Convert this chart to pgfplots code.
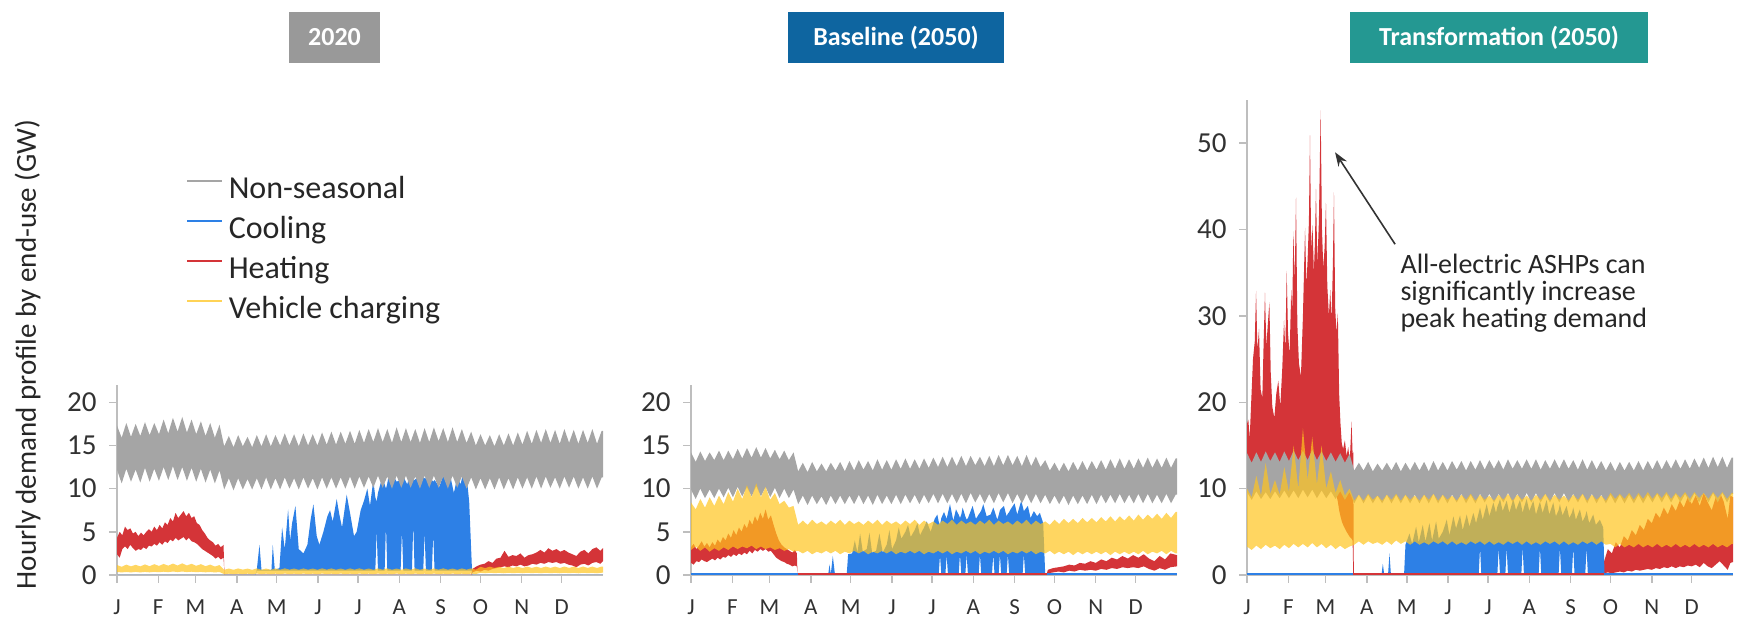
\documentclass[border=0pt]{standalone}
\usepackage{fontspec}
\setmainfont{Carlito}
\usepackage{pgfplots}
\pgfplotsset{compat=1.18}
\usepgfplotslibrary{fillbetween}
\usepackage{pgfplotstable}
\usetikzlibrary{arrows.meta}
\newcommand{\fs}[2]{\fontsize{#1}{#2}\selectfont}
\definecolor{cgray}{RGB}{165,165,165}
\definecolor{cblue}{RGB}{45,128,230}
\definecolor{cred}{RGB}{212,52,56}
\definecolor{cyel}{RGB}{255,196,30}
\definecolor{box1}{RGB}{153,153,153}
\definecolor{box2}{RGB}{14,101,160}
\definecolor{box3}{RGB}{36,152,146}
\definecolor{axc}{RGB}{190,190,190}
\definecolor{txt}{RGB}{38,38,38}
\definecolor{tickc}{RGB}{50,50,50}

% weekly envelopes (lo/hi) of non-seasonal (g) and vehicle charging (v) for the three panels
\pgfplotstableread{
x g1lo g1hi g2lo g2hi g3lo g3hi v1lo v1hi v2lo v2hi v3lo v3hi
0 12.2 17.3 9.9 14.2 9.6 14.1 0.35 1.15 2.9 8.4 3.3 10.0
3.5 10.6 15.9 8.8 13.1 8.7 13.0 0.30 0.95 3.3 7.6 2.9 9.0
7 12.3 17.6 10.0 14.3 9.7 14.2 0.35 1.20 2.8 8.8 3.4 11.5
10.5 10.8 16.0 8.9 13.2 8.8 13.1 0.30 1.00 3.2 7.8 3.0 9.2
14 12.2 17.5 9.9 14.2 9.6 14.3 0.36 1.18 2.7 9.0 3.5 13.0
17.5 10.7 16.1 8.9 13.3 8.8 13.2 0.30 1.00 3.1 8.0 3.1 9.4
21 12.4 17.7 10.0 14.4 9.7 14.2 0.36 1.22 2.8 9.2 3.4 11.0
24.5 10.8 16.2 9.0 13.3 8.9 13.1 0.31 1.02 3.2 8.2 3.0 9.3
28 12.3 17.6 10.1 14.4 9.8 14.3 0.37 1.25 2.9 9.6 3.5 12.5
31.5 10.9 16.3 9.0 13.4 8.9 13.2 0.32 1.05 3.3 8.5 3.1 9.6
35 12.5 18.0 10.2 14.6 9.8 14.4 0.38 1.28 3.0 10.0 3.6 15.0
38.5 11.0 16.4 9.1 13.5 8.9 13.3 0.33 1.08 3.3 8.8 3.2 10.0
42 12.6 18.2 10.2 14.7 9.9 14.4 0.40 1.32 3.1 10.4 3.6 17.0
45.5 11.0 16.6 9.1 13.6 9.0 13.3 0.34 1.10 3.4 9.0 3.2 11.0
49 12.5 18.3 10.3 14.8 9.9 14.5 0.40 1.35 3.0 10.6 3.7 16.0
52.5 10.9 16.5 9.1 13.6 8.9 13.3 0.34 1.10 3.3 9.0 3.2 10.5
56 12.4 18.0 10.2 14.7 9.8 14.3 0.38 1.30 3.0 10.2 3.6 15.0
59.5 10.8 16.3 9.0 13.5 8.9 13.2 0.33 1.06 3.2 8.7 3.1 10.0
63 12.3 17.8 10.1 14.5 9.7 14.2 0.36 1.25 2.9 9.5 3.5 12.0
66.5 10.7 16.1 8.9 13.4 8.8 13.1 0.31 1.02 3.1 8.2 3.0 9.5
70 12.2 17.6 10.0 14.4 9.7 14.1 0.35 1.20 2.8 8.6 3.4 11.0
73.5 10.6 15.9 8.9 13.3 8.7 13.0 0.30 0.98 3.0 7.8 3.0 9.2
77 12.1 17.4 9.9 14.2 9.6 14.0 0.34 1.15 2.7 8.0 3.3 10.0
80.5 9.9 14.9 8.2 12.0 8.3 12.1 0.10 0.60 2.8 5.8 3.5 8.6
84 11.2 16.1 9.2 13.0 9.3 13.0 0.15 0.75 2.5 6.3 3.9 9.3
87.5 9.8 14.8 8.1 11.9 8.3 12.1 0.10 0.60 2.8 5.8 3.5 8.6
91 11.2 16.2 9.2 13.1 9.3 13.1 0.15 0.76 2.4 6.4 3.9 9.4
94.5 9.9 14.9 8.2 12.0 8.3 12.0 0.10 0.62 2.7 5.9 3.6 8.7
98 11.1 16.0 9.1 12.9 9.2 12.9 0.15 0.74 2.5 6.2 3.8 9.2
101.5 9.9 14.8 8.1 12.0 8.3 12.1 0.10 0.60 2.8 5.8 3.5 8.6
105 11.2 16.2 9.2 13.0 9.3 13.0 0.16 0.76 2.5 6.3 3.9 9.3
108.5 9.9 14.9 8.2 12.1 8.3 12.1 0.11 0.61 2.8 5.9 3.5 8.7
112 11.3 16.3 9.2 13.1 9.3 13.1 0.15 0.75 2.4 6.4 4.0 9.4
115.5 9.9 14.9 8.2 12.0 8.3 12.0 0.10 0.60 2.7 5.8 3.6 8.6
119 11.2 16.2 9.2 13.2 9.3 13.0 0.15 0.76 2.5 6.3 3.9 9.3
122.5 9.9 15.0 8.2 12.1 8.3 12.1 0.10 0.61 2.8 5.9 3.5 8.7
126 11.3 16.4 9.3 13.3 9.3 13.1 0.16 0.77 2.5 6.2 3.9 9.2
129.5 10.0 15.0 8.2 12.2 8.3 12.1 0.11 0.62 2.8 5.8 3.5 8.6
133 11.2 16.3 9.2 13.2 9.3 13.1 0.15 0.75 2.4 6.3 3.8 9.3
136.5 9.9 14.9 8.1 12.1 8.3 12.0 0.10 0.60 2.7 5.9 3.5 8.7
140 11.3 16.4 9.3 13.4 9.4 13.2 0.16 0.76 2.5 6.4 3.9 9.4
143.5 10.0 15.0 8.2 12.2 8.3 12.1 0.11 0.61 2.8 5.8 3.6 8.6
147 11.2 16.3 9.2 13.3 9.3 13.1 0.15 0.75 2.5 6.3 3.9 9.3
150.5 9.9 15.0 8.2 12.2 8.3 12.1 0.10 0.60 2.8 5.9 3.5 8.7
154 11.3 16.5 9.3 13.4 9.3 13.2 0.16 0.77 2.4 6.2 3.9 9.2
157.5 10.0 15.1 8.2 12.3 8.4 12.2 0.11 0.62 2.7 5.8 3.5 8.6
161 11.3 16.6 9.3 13.5 9.4 13.2 0.15 0.76 2.5 6.3 3.8 9.3
164.5 10.0 15.1 8.3 12.3 8.3 12.1 0.10 0.61 2.8 5.9 3.5 8.7
168 11.3 16.6 9.3 13.4 9.3 13.2 0.16 0.75 2.5 6.4 3.9 9.4
171.5 10.0 15.2 8.2 12.3 8.3 12.2 0.11 0.60 2.8 5.8 3.6 8.6
175 11.4 16.7 9.3 13.5 9.4 13.3 0.15 0.76 2.4 6.3 3.9 9.3
178.5 10.0 15.2 8.3 12.4 8.4 12.2 0.10 0.62 2.7 5.9 3.5 8.7
182 11.4 16.8 9.4 13.6 9.4 13.3 0.16 0.77 2.5 6.2 3.9 9.2
185.5 10.1 15.3 8.3 12.5 8.4 12.3 0.11 0.61 2.8 5.8 3.5 8.6
189 11.4 16.9 9.4 13.7 9.4 13.3 0.15 0.75 2.5 6.3 3.8 9.3
192.5 10.1 15.4 8.3 12.5 8.4 12.2 0.10 0.60 2.8 5.9 3.5 8.7
196 11.5 17.0 9.4 13.7 9.5 13.4 0.16 0.76 2.4 6.4 3.9 9.4
199.5 10.1 15.4 8.3 12.6 8.4 12.3 0.11 0.62 2.7 5.8 3.6 8.6
203 11.4 16.9 9.4 13.8 9.4 13.3 0.15 0.77 2.5 6.3 3.9 9.3
206.5 10.0 15.3 8.3 12.6 8.4 12.3 0.10 0.61 2.8 5.9 3.5 8.7
210 11.5 17.1 9.5 13.8 9.5 13.4 0.16 0.75 2.5 6.2 3.9 9.2
213.5 10.1 15.4 8.4 12.7 8.4 12.3 0.11 0.60 2.8 5.8 3.5 8.6
217 11.5 17.0 9.4 13.7 9.5 13.4 0.15 0.76 2.4 6.3 3.8 9.3
220.5 10.1 15.4 8.3 12.6 8.4 12.2 0.10 0.62 2.7 5.9 3.5 8.7
224 11.4 16.9 9.4 13.8 9.4 13.3 0.16 0.77 2.5 6.4 3.9 9.4
227.5 10.0 15.3 8.3 12.6 8.4 12.3 0.11 0.61 2.8 5.8 3.6 8.6
231 11.5 17.0 9.5 13.9 9.5 13.4 0.15 0.75 2.5 6.3 3.9 9.3
234.5 10.1 15.4 8.4 12.7 8.4 12.3 0.10 0.60 2.8 5.9 3.5 8.7
238 11.5 17.1 9.5 13.9 9.5 13.4 0.16 0.76 2.4 6.2 3.9 9.2
241.5 10.1 15.5 8.3 12.7 8.4 12.3 0.11 0.62 2.7 5.8 3.5 8.6
245 11.4 17.0 9.4 13.8 9.4 13.3 0.15 0.77 2.5 6.3 3.8 9.3
248.5 10.0 15.4 8.3 12.6 8.4 12.2 0.10 0.61 2.8 5.9 3.5 8.7
252 11.5 17.1 9.4 13.9 9.4 13.4 0.16 0.75 2.5 6.4 3.9 9.4
255.5 10.1 15.4 8.3 12.6 8.3 12.2 0.11 0.60 2.8 5.8 3.6 8.6
259 11.4 16.9 9.4 13.7 9.4 13.3 0.15 0.76 2.4 6.3 3.9 9.3
262.5 10.0 15.3 8.3 12.5 8.3 12.2 0.10 0.62 2.7 5.9 3.5 8.7
266 11.3 16.6 9.3 13.3 9.3 13.2 0.16 0.77 2.5 6.2 3.9 9.2
269.5 9.9 15.0 8.2 12.1 8.3 12.1 0.11 0.61 2.8 5.8 3.5 8.6
273 11.2 16.3 9.2 13.0 9.3 13.1 0.25 0.95 2.4 6.4 3.6 9.5
276.5 9.9 15.0 8.2 12.0 8.3 12.0 0.20 0.80 2.7 5.9 3.2 8.8
280 11.2 16.2 9.2 13.0 9.3 13.1 0.26 0.96 2.4 6.5 3.6 9.4
283.5 9.9 14.9 8.1 12.0 8.3 12.1 0.21 0.81 2.7 6.0 3.2 8.8
287 11.3 16.3 9.2 13.1 9.3 13.1 0.25 0.95 2.3 6.5 3.5 9.5
290.5 9.9 15.0 8.2 12.1 8.3 12.1 0.20 0.80 2.7 6.0 3.2 8.7
294 11.2 16.4 9.2 13.2 9.3 13.2 0.26 0.97 2.4 6.6 3.6 9.5
297.5 9.9 15.0 8.2 12.1 8.3 12.1 0.21 0.81 2.7 6.1 3.2 8.8
301 11.3 16.5 9.3 13.2 9.3 13.2 0.25 0.96 2.4 6.6 3.5 9.6
304.5 10.0 15.1 8.2 12.2 8.4 12.2 0.20 0.80 2.7 6.1 3.2 8.8
308 11.3 16.7 9.3 13.3 9.4 13.3 0.26 0.97 2.4 6.7 3.6 9.5
311.5 10.0 15.2 8.3 12.2 8.4 12.2 0.21 0.82 2.7 6.2 3.2 8.9
315 11.4 16.8 9.3 13.4 9.4 13.3 0.25 0.96 2.3 6.8 3.5 9.6
318.5 10.0 15.3 8.3 12.3 8.4 12.3 0.20 0.81 2.7 6.2 3.2 8.8
322 11.4 16.9 9.4 13.5 9.4 13.4 0.26 0.98 2.4 6.8 3.6 9.5
325.5 10.1 15.3 8.3 12.3 8.4 12.3 0.21 0.82 2.7 6.3 3.2 8.9
329 11.3 16.8 9.3 13.4 9.4 13.4 0.25 0.97 2.4 6.9 3.5 9.6
332.5 10.0 15.2 8.3 12.3 8.4 12.3 0.20 0.81 2.7 6.3 3.2 8.8
336 11.4 16.9 9.4 13.5 9.5 13.5 0.26 0.98 2.4 7.0 3.6 9.6
339.5 10.1 15.3 8.3 12.4 8.4 12.4 0.21 0.82 2.8 6.4 3.2 8.9
343 11.4 16.8 9.4 13.6 9.5 13.6 0.25 0.97 2.4 7.0 3.5 9.5
346.5 10.0 15.2 8.3 12.4 8.4 12.4 0.20 0.81 2.7 6.5 3.2 8.8
350 11.3 16.8 9.3 13.5 9.5 13.7 0.26 0.98 2.5 7.1 3.6 9.6
353.5 10.0 15.3 8.3 12.4 8.4 12.5 0.21 0.82 2.8 6.5 3.2 8.9
357 11.4 16.9 9.4 13.6 9.5 13.7 0.25 0.97 2.4 7.2 3.5 9.6
360.5 10.0 15.2 8.3 12.4 8.4 12.4 0.20 0.81 2.8 6.6 3.2 8.8
364 11.3 16.7 9.3 13.5 9.4 13.6 0.26 0.98 2.5 7.3 3.6 9.5
365 11.3 16.7 9.3 13.5 9.4 13.6 0.26 0.98 2.5 7.3 3.6 9.5
}\weekly

% heating, 2020
\pgfplotstableread{
x lo hi
0 2.4 4.3
2 2.0 5.0
4 3.0 4.6
6 3.3 5.6
8 3.0 5.2
10 3.5 5.4
12 3.1 4.8
14 2.8 5.0
16 3.0 4.5
18 2.9 4.9
20 3.2 4.6
22 3.0 5.0
24 3.4 5.3
26 3.3 5.0
28 3.6 5.6
30 3.4 5.2
32 3.8 5.8
34 3.5 5.4
36 3.9 6.1
38 3.7 5.8
40 4.1 6.6
42 3.9 6.2
44 4.3 7.2
46 4.0 6.6
48 4.2 7.0
50 4.4 7.4
52 4.0 6.8
54 4.3 7.2
56 3.9 6.6
58 3.8 6.8
60 3.6 6.0
62 3.3 5.8
64 3.0 5.2
66 2.8 4.8
68 2.6 4.3
70 2.4 4.0
72 2.2 3.8
74 1.9 3.4
76 2.1 3.6
78 1.8 3.2
80 2.0 3.5
80.6 0.4 0.6
81 0 0
266 0 0
267 0.3 0.7
270 0.5 1.0
273 0.4 1.2
276 0.6 1.3
279 0.5 1.6
282 0.7 1.4
285 0.8 1.9
288 0.9 2.0
291 1.0 2.8
294 0.9 2.1
297 1.1 2.3
300 1.0 2.2
303 1.2 2.5
306 1.0 2.0
309 1.1 2.3
312 1.3 2.4
315 1.2 2.6
318 1.4 2.9
321 1.3 2.6
324 1.5 3.1
327 1.4 2.8
330 1.5 3.0
333 1.3 2.7
336 1.4 2.9
339 1.2 2.6
342 1.1 2.4
345 0.9 2.2
348 1.2 2.7
351 1.3 2.9
354 1.1 2.5
357 1.4 3.0
360 1.5 3.2
363 1.3 2.8
365 1.6 3.1
}\heatA

% cooling, 2020
\pgfplotstableread{
x lo hi
0 0 0
104 0 0
105 0.5 0.6
107 0.5 3.5
108.5 0.5 0.6
116 0.5 0.6
117 0.5 3.5
118.5 0.5 0.6
122 0.5 0.8
124 0.5 5.5
126 0.5 3.0
128.5 0.5 7.6
130 0.5 4.0
131.5 0.5 6.0
134 0.5 8.0
136.5 0.5 3.0
140 0.5 2.5
143 0.5 3.5
145.5 0.5 6.5
147.5 0.5 8.2
150 0.5 4.5
152 0.5 3.5
155 0.5 5.0
158 0.5 6.8
160 0.5 7.5
162 0.5 6.2
165 0.5 8.8
167 0.5 7.0
169 0.5 5.5
172.5 0.5 9.3
175 0.5 7.2
178 0.5 4.5
180 0.5 5.0
183 0.5 7.5
185.5 0.5 8.6
188 0.5 10.0
190 0.5 8.0
192.5 0.5 11.0
194 0.5 9.0
195 5.2 8.5
196 0.5 9.5
199 0.5 11.2
201 0.5 10.5
202 5.8 10.0
203 0.5 10.6
204 0.5 11.6
207.5 0.5 11.5
210 0.5 10.8
213 0.5 11.0
214 5.2 11.2
215 0.5 11.4
218 0.5 10.5
220 0.5 11.7
221.5 0.5 11.2
222.5 6.0 11.0
223.5 0.5 11.0
227 0.5 11.5
230 0.5 11.4
231 5.0 11.2
232 0.5 11.2
235 0.5 11.7
236.5 0.5 11.0
237.5 4.8 10.8
238.5 0.5 11.0
242 0.5 10.2
245 0.5 11.5
248 0.5 11.0
250 0.5 11.7
253 0.5 9.5
255.5 0.5 11.3
258 0.5 10.5
260 0.5 11.8
262.5 0.5 11.5
264.5 0.5 8.5
266.5 0.5 1.0
267 0 0
365 0 0
}\coolA

% heating, Baseline
\pgfplotstableread{
x lo hi
0 1.4 3.2
2 1.2 3.6
4 1.6 3.0
6 1.5 3.4
8 1.8 3.9
10 1.6 3.3
12 1.5 3.7
14 1.7 3.2
16 1.9 3.8
18 1.7 3.4
20 2.0 4.1
22 1.8 3.7
24 2.1 4.4
26 2.0 4.0
28 2.3 4.8
30 2.1 4.3
32 2.4 5.2
34 2.2 4.6
36 2.5 5.5
38 2.3 5.0
40 2.6 5.9
42 2.4 5.4
44 2.8 6.4
46 2.5 5.8
48 2.9 6.8
50 2.7 6.2
52 3.0 7.2
54 2.8 6.5
56 3.0 7.6
58 2.7 6.4
60 2.8 6.9
62 2.4 5.8
64 2.0 4.8
66 1.8 4.0
68 1.6 3.5
70 1.5 3.2
72 1.3 3.0
74 1.2 2.8
76 1.0 2.6
78 1.1 2.9
79.5 1.0 2.5
80 0 0
267 0 0
268 0.2 0.6
272 0.3 0.8
276 0.4 0.9
280 0.3 1.0
284 0.5 1.2
288 0.4 1.1
292 0.6 1.4
296 0.5 1.3
300 0.6 1.6
304 0.5 1.4
308 0.7 1.8
312 0.6 1.6
316 0.8 2.0
320 0.7 1.8
324 0.9 2.2
328 0.8 1.9
332 0.9 2.3
336 0.8 2.0
340 1.0 2.4
344 0.7 1.9
348 0.5 1.6
352 0.8 2.2
356 0.6 1.8
360 0.9 2.5
365 1.0 2.3
}\heatB

% cooling, Baseline
\pgfplotstableread{
x lo hi
0 0 0
103 0 0
104 0 1.2
105 0 0.1
106.5 0 2.2
108 0 0.2
117 0 0.2
118 0 2.4
121 0 2.5
123 0 4.0
125 0 2.6
127 0 4.8
129 0 2.7
132 0 3.0
134 0 4.9
136 0 2.6
139 0 2.8
141.5 0 4.8
144 0 2.6
147 0 3.5
149 0 5.2
151 0 3.0
154 0 4.0
156 0 5.5
158 0 4.2
161 0 5.0
163 0 5.8
165 0 4.4
168 0 5.2
170 0 6.0
172 0 4.6
175 0 5.5
177 0 6.2
180 0 5.0
183 0 6.5
185 0 7.0
186 0 6.2
187 2.3 5.8
188 0 6.6
190 0 7.3
191 0 6.9
192 2.3 6.5
193 0 7.2
194.5 0 8.2
197 0 6.3
199 0 7.6
201 0 7.0
202 2.4 6.6
203 0 7.0
204 0 7.8
206 0 6.8
207 2.4 6.4
208 0 6.6
209 0 7.0
211.5 0 8.0
214 0 6.5
216 0 7.0
217 2.4 7.2
218 0 7.5
219.5 0 8.2
222 0 6.8
225 0 7.0
226 0 7.4
227 2.4 7.8
228 0 7.4
230 0 6.4
231 0 6.9
232 2.4 7.5
233 0 7.7
235 0 8.0
237 0 6.8
238 2.4 7.1
239 0 7.3
240 0 7.6
243 0 8.3
245 0 7.0
248 0 8.6
249 0 8.0
250 2.4 7.4
251 0 7.6
253 0 8.0
255 0 6.6
257.5 0 7.4
260 0 6.8
262 0 7.2
264.5 0 6.0
266 0 0.1
267 0 0
365 0 0
}\coolB

% heating, Transformation
\pgfplotstableread{
x lo hi
0 10.5 17.5
1 10.8 18.0
2 10.6 15.8
3 11.0 19.5
4.5 11.2 25.0
5.8 11.5 27.0
6.8 11.8 32.9
7.8 11.5 26.0
9 11.6 28.5
10.2 11.2 21.5
11.5 11.0 20.5
12.5 11.4 27.0
13.5 11.8 32.7
14.5 11.6 26.5
15.6 11.7 29.0
16.8 11.8 31.6
17.8 11.5 23.5
19 11.2 19.5
20.5 11.0 18.2
22 11.2 21.0
23.5 11.4 22.5
25 11.3 19.5
26.5 11.6 24.0
27.8 11.8 29.5
28.8 12.0 26.0
29.8 12.2 35.2
30.8 12.0 28.0
32 12.1 25.5
33.2 12.3 33.0
34 12.4 30.5
34.8 12.5 39.8
35.8 12.3 34.0
36.8 12.6 43.7
37.8 12.2 29.0
39 12.0 24.5
40.5 11.8 23.0
42 12.0 30.0
43.6 12.3 40.2
44.6 12.2 33.5
45.5 12.4 36.5
46.5 12.5 41.0
47.3 12.7 50.9
48.2 12.4 37.5
49.2 12.5 40.5
50.2 12.3 35.0
51 12.5 38.5
51.8 12.7 44.7
52.8 12.4 36.0
54 12.5 41.0
55.3 12.8 53.8
56.3 12.5 40.0
57.3 12.3 35.5
58.3 12.4 38.0
59.3 12.5 43.1
60.3 12.0 33.5
61.5 11.8 30.0
62.5 11.5 33.0
63.5 11.2 29.5
64.5 10.8 36.0
65.3 10.5 44.3
66.2 10.0 31.0
67.2 9.2 28.0
68.2 8.5 30.3
69.2 7.5 21.0
70.2 6.8 17.5
71.2 6.2 15.2
72.2 5.8 14.6
73.5 5.4 15.6
74.8 5.0 13.8
76 4.7 14.8
77.2 4.4 13.2
78.5 4.2 17.8
79.3 4.0 14.0
79.8 0 14.2
80.2 0 0
267 0 0
268 0.2 1.5
271 0.3 3.0
274 0.2 2.5
277 0.3 3.8
280 0.4 3.2
283 0.3 4.5
286 0.5 4.0
289 0.4 5.2
292 0.6 4.6
295 0.5 5.8
298 0.6 5.2
301 0.7 6.5
304 0.6 6.0
307 0.8 7.2
310 0.7 6.6
313 0.9 7.8
316 0.8 7.0
319 1.0 8.2
322 0.8 7.4
325 1.0 8.6
328 0.9 7.8
331 1.1 9.0
334 1.0 8.2
337 1.2 9.2
340 0.9 8.0
343 1.4 9.5
346 1.0 8.4
349 0.8 7.5
352 1.2 9.0
355 1.6 9.6
358 1.1 8.5
361 0.6 6.5
363 1.4 9.2
365 1.5 9.0
}\heatC

% cooling, Transformation
\pgfplotstableread{
x lo hi
0 0 0
101 0 0
102 0 1.3
103 0 0.1
106 0 0.2
107 0 2.5
108 0 0.2
118 0 0.2
119 0 3.5
122 0 4.8
124 0 3.6
127 0 5.6
129 0 3.8
132 0 5.8
134 0 3.9
137 0 6.0
139 0 4.0
142 0 6.2
144 0 4.2
147 0 5.0
150 0 6.4
152 0 4.6
155 0 6.8
157 0 5.4
160 0 6.9
162 0 5.2
165 0 7.0
167 0 5.6
170 0 7.2
172 0 6.0
174 0 7.2
175 3.2 7.8
176 0 7.1
177 0 6.4
180 0 8.2
182 0 6.8
185 0 8.4
187 0 7.2
188 0 7.9
189 3.2 8.3
190 0 8.8
192 0 7.4
194 0 8.2
195 3.2 8.6
196 0 7.9
197 0 7.2
200 0 8.8
202 0 7.5
205 0 8.7
206 0 8.0
207 3.2 7.2
208 0 7.8
210 0 8.8
212 0 7.4
215 0 8.6
217 0 7.0
219 0 8.0
220 3.2 8.5
221 0 7.8
222 0 7.2
225 0 8.7
227 0 7.0
230 0 8.4
232 0 6.8
234 0 7.5
235 3.2 8.2
236 0 7.5
237 0 6.9
240 0 8.0
242 0 6.6
244 0 7.2
245 3.2 7.8
246 0 7.1
247 0 6.4
250 0 7.6
252 0 6.2
254 0 6.8
255 3.2 7.4
256 0 6.7
257 0 6.0
260 0 7.0
262 0 5.8
265 0 6.4
267.5 0 5.5
268.5 0 0.1
269 0 0
365 0 0
}\coolC

\pgfplotsset{
  panel/.style={
    scale only axis, width=243pt, anchor=south west,
    xmin=0, xmax=365, ymin=0,
    axis x line*=bottom, axis y line*=left,
    axis line style={draw=axc, line width=0.7pt},
    tick style={draw=axc, line width=0.7pt},
    major tick length=4pt, tick align=outside,
    xtick={0,31,59,90,120,151,181,212,243,273,304,334},
    xticklabels={J,F,M,A,M,J,J,A,S,O,N,D},
    xticklabel style={font=\fs{11.5}{13}, text=tickc, inner sep=0pt, yshift=-8pt},
    yticklabel style={font=\fs{14.5}{16}, text=tickc, inner sep=0pt, xshift=-6pt},
    /pgf/number format/assume math mode=true,
  },
  band/.style={draw=none, forget plot},
}

\begin{document}
\begin{tikzpicture}

% titles
\node[fill=box1, text=white, minimum width=45.5pt, minimum height=25.5pt, inner sep=0pt, font=\bfseries\fs{13}{15}] at (167.25pt,290.75pt) {2020};
\node[fill=box2, text=white, minimum width=108pt, minimum height=25.5pt, inner sep=0pt, font=\bfseries\fs{13}{15}] at (448pt,290.75pt) {Baseline (2050)};
\node[fill=box3, text=white, minimum width=149pt, minimum height=25.5pt, inner sep=0pt, font=\bfseries\fs{13}{15}] at (749.5pt,290.75pt) {Transformation (2050)};
\node[rotate=90, font=\fs{14.5}{16}, text=txt] at (13.75pt,132.25pt) {Hourly demand profile by end-use (GW)};

% ---------- panel 1: 2020
\begin{axis}[panel, at={(58.5pt,22pt)}, height=95pt, ymax=22, ytick={0,5,10,15,20},
  legend style={at={(0.142,2.11)}, anchor=north west, draw=none, fill=none,
    inner sep=0pt, outer sep=0pt, font=\fs{16}{19}, text=txt, row sep=4pt,
    nodes={inner sep=0.5pt, text height=11.5pt, text depth=3.5pt},
    /tikz/every odd column/.append style={column sep=2pt}},
  legend cell align=left,
  legend image code/.code={\draw[#1, line width=1.4pt] (0pt,4.5pt) -- (17.5pt,4.5pt);}]
\addlegendimage{cgray}\addlegendentry{Non-seasonal}
\addlegendimage{cblue}\addlegendentry{Cooling}
\addlegendimage{cred}\addlegendentry{Heating}
\addlegendimage{cyel!75}\addlegendentry{Vehicle charging}
\addplot[band, name path=ha1] table[x=x,y=hi]{\heatA};
\addplot[band, name path=ha2] table[x=x,y=lo]{\heatA};
\addplot[fill=cred, draw=none, forget plot] fill between[of=ha1 and ha2];
\addplot[band, name path=ca1] table[x=x,y=hi]{\coolA};
\addplot[band, name path=ca2] table[x=x,y=lo]{\coolA};
\addplot[fill=cblue, draw=none, forget plot] fill between[of=ca1 and ca2];
\addplot[band, name path=ga1] table[x=x,y=g1hi]{\weekly};
\addplot[band, name path=ga2] table[x=x,y=g1lo]{\weekly};
\addplot[fill=cgray, draw=none, forget plot] fill between[of=ga1 and ga2];
\addplot[band, name path=va1] table[x=x,y=v1hi]{\weekly};
\addplot[band, name path=va2] table[x=x,y=v1lo]{\weekly};
\addplot[fill=cyel, fill opacity=0.7, draw=none, forget plot] fill between[of=va1 and va2];
\end{axis}

% ---------- panel 2: Baseline
\begin{axis}[panel, at={(345.5pt,22pt)}, height=95pt, ymax=22, ytick={0,5,10,15,20}]
\addplot[band, name path=hb1] table[x=x,y=hi]{\heatB};
\addplot[band, name path=hb2] table[x=x,y=lo]{\heatB};
\addplot[fill=cred, draw=none, forget plot] fill between[of=hb1 and hb2];
\addplot[band, name path=cb1] table[x=x,y=hi]{\coolB};
\addplot[band, name path=cb2] table[x=x,y=lo]{\coolB};
\addplot[fill=cblue, draw=none, forget plot] fill between[of=cb1 and cb2];
\addplot[cblue, line width=1.6pt, forget plot] coordinates {(0,0) (365,0)};
\addplot[cred, line width=1.6pt, forget plot] coordinates {(80,0) (267,0)};
\addplot[band, name path=gb1] table[x=x,y=g2hi]{\weekly};
\addplot[band, name path=gb2] table[x=x,y=g2lo]{\weekly};
\addplot[fill=cgray, draw=none, forget plot] fill between[of=gb1 and gb2];
\addplot[band, name path=vb1] table[x=x,y=v2hi]{\weekly};
\addplot[band, name path=vb2] table[x=x,y=v2lo]{\weekly};
\addplot[fill=cyel, fill opacity=0.7, draw=none, forget plot] fill between[of=vb1 and vb2];
\end{axis}

% ---------- panel 3: Transformation
\begin{axis}[panel, at={(623.5pt,22pt)}, height=237.5pt, ymax=55, ytick={0,10,20,30,40,50}]
\addplot[band, name path=hc1] table[x=x,y=hi]{\heatC};
\addplot[band, name path=hc2] table[x=x,y=lo]{\heatC};
\addplot[fill=cred, draw=none, forget plot] fill between[of=hc1 and hc2];
\addplot[band, name path=cc1] table[x=x,y=hi]{\coolC};
\addplot[band, name path=cc2] table[x=x,y=lo]{\coolC};
\addplot[fill=cblue, draw=none, forget plot] fill between[of=cc1 and cc2];
\addplot[cblue, line width=1.6pt, forget plot] coordinates {(0,0) (365,0)};
\addplot[cred, line width=1.6pt, forget plot] coordinates {(79.8,0) (268,0)};
\addplot[band, name path=gc1] table[x=x,y=g3hi]{\weekly};
\addplot[band, name path=gc2] table[x=x,y=g3lo]{\weekly};
\addplot[fill=cgray, draw=none, forget plot] fill between[of=gc1 and gc2];
\addplot[band, name path=vc1] table[x=x,y=v3hi]{\weekly};
\addplot[band, name path=vc2] table[x=x,y=v3lo]{\weekly};
\addplot[fill=cyel, fill opacity=0.7, draw=none, forget plot] fill between[of=vc1 and vc2];
\draw[-{Stealth[length=7pt,width=5pt]}, line width=0.8pt, color=black!80]
  (axis cs:111.2,38.3) -- (axis cs:66.1,48.95);
\node[anchor=north west, align=left, inner sep=0pt, font=\fs{14}{13.5}, text=txt]
  at (axis cs:115,37.2) {All-electric ASHPs can\\significantly increase\\peak heating demand};
\end{axis}

\pgfresetboundingbox
\path[use as bounding box] (0,0) rectangle (872pt,309.5pt);
\end{tikzpicture}
\end{document}
